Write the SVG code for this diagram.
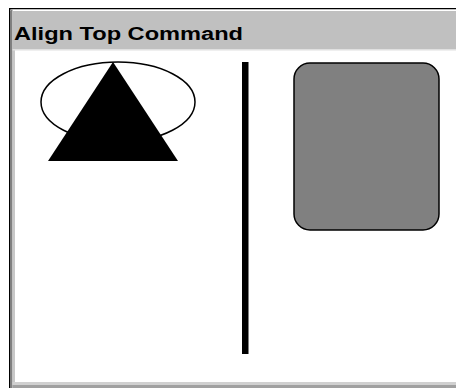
<svg xmlns="http://www.w3.org/2000/svg" width="456" height="388" viewBox="0 0 456 388">
<style>
.title{font-family:"Liberation Sans",Arial,sans-serif;font-weight:bold;font-size:18px;fill:#000}
.shape{stroke:#000}
</style>
<rect x="0" y="0" width="456" height="388" fill="#fff"/>
<g id="frame">
<rect x="9" y="8" width="447" height="380" fill="#fff"/>
<rect x="9" y="8" width="447" height="1.5" fill="#000"/>
<rect x="9" y="8" width="1.5" height="380" fill="#000"/>
<rect x="10.5" y="9.5" width="445.5" height="1.5" fill="#fff"/>
<rect x="10.5" y="9.5" width="2" height="378.5" fill="#808080"/>
<rect x="12.5" y="11" width="2.5" height="377" fill="#c8c8c8"/>
<rect x="12.5" y="11" width="443.5" height="38" fill="#c0c0c0"/>
<rect x="12.5" y="49" width="443.5" height="1.5" fill="#e0e0e0"/>
<rect x="12.5" y="382" width="443.5" height="3" fill="#d0d0d0"/>
<rect x="12.5" y="385" width="443.5" height="3" fill="#a0a0a0"/>
</g>
<g id="title">
<text class="title" x="14" y="40" textLength="229" lengthAdjust="spacingAndGlyphs">Align Top Command</text>
</g>
<g id="ellipse">
<ellipse class="shape" cx="118" cy="102" rx="77" ry="40" fill="none" stroke-width="1.5"/>
</g>
<g id="triangle">
<polygon points="113,62 178,161 48,161" fill="#000"/>
</g>
<g id="bar">
<rect x="242" y="62" width="6.5" height="292" fill="#000"/>
</g>
<g id="roundrect">
<rect class="shape" x="294" y="63" width="145" height="167" rx="16" ry="16" fill="#808080" stroke-width="1.5"/>
</g>
<g id="connectors"></g>
</svg>
